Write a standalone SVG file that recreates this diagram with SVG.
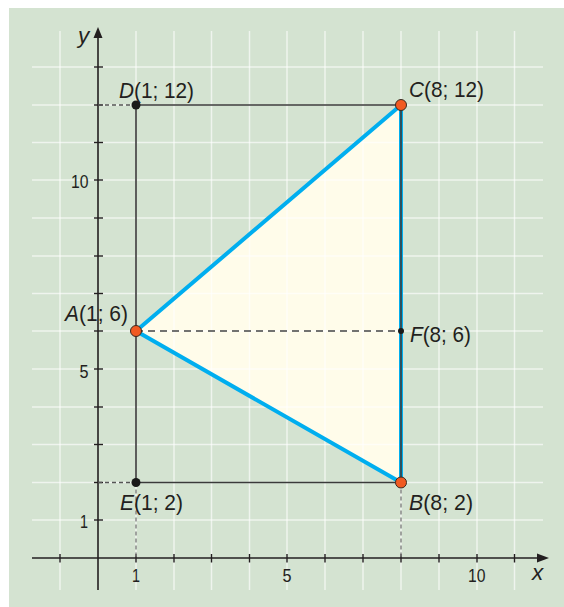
<svg xmlns="http://www.w3.org/2000/svg" width="564" height="607" viewBox="0 0 564 607">
<defs>
<style>
.grid line{stroke:#ffffff;stroke-opacity:0.62;stroke-width:1.5}
.axis{stroke:#231f20;stroke-width:1.6;fill:none}
.tick line{stroke:#231f20;stroke-width:1.4}
.rect{stroke:#3a3a3a;stroke-width:1.6;fill:none}
.blue{stroke:#00aeef;stroke-width:4;fill:none;stroke-linecap:round}
.dash{stroke:#444;stroke-width:1.6;stroke-dasharray:7 5;fill:none}
.dashs{stroke:#555;stroke-width:1.3;stroke-dasharray:4 3;fill:none}
.dashl{stroke:#777;stroke-width:1.3;stroke-dasharray:4 3;fill:none}
.lbl{font-family:"Liberation Sans",Arial,sans-serif;font-size:22.5px;fill:#231f20}
.num{font-family:"Liberation Sans",Arial,sans-serif;font-size:18px;fill:#231f20}
.it{font-style:italic}
.pt{fill:#f15a22;stroke:#3a2a20;stroke-width:1}
.bk{fill:#1a1a1a}
</style>
</defs>
<rect x="9" y="8" width="555" height="599" fill="#d4e3d1"/>
<polygon id="triangle-fill" points="136,331 401,105 401,482.5" fill="#fffcea"/>
<g class="grid">
<line x1="60" y1="31" x2="60" y2="590"/>
<line x1="136" y1="31" x2="136" y2="590"/>
<line x1="174" y1="31" x2="174" y2="590"/>
<line x1="211.5" y1="31" x2="211.5" y2="590"/>
<line x1="249.5" y1="31" x2="249.5" y2="590"/>
<line x1="287" y1="31" x2="287" y2="590"/>
<line x1="325" y1="31" x2="325" y2="590"/>
<line x1="363" y1="31" x2="363" y2="590"/>
<line x1="401" y1="31" x2="401" y2="590"/>
<line x1="439" y1="31" x2="439" y2="590"/>
<line x1="477" y1="31" x2="477" y2="590"/>
<line x1="514.5" y1="31" x2="514.5" y2="590"/>
<line x1="32" y1="67" x2="543" y2="67"/>
<line x1="32" y1="105" x2="543" y2="105"/>
<line x1="32" y1="142.5" x2="543" y2="142.5"/>
<line x1="32" y1="180" x2="543" y2="180"/>
<line x1="32" y1="218" x2="543" y2="218"/>
<line x1="32" y1="256" x2="543" y2="256"/>
<line x1="32" y1="293.5" x2="543" y2="293.5"/>
<line x1="32" y1="331" x2="543" y2="331"/>
<line x1="32" y1="369" x2="543" y2="369"/>
<line x1="32" y1="407" x2="543" y2="407"/>
<line x1="32" y1="444.5" x2="543" y2="444.5"/>
<line x1="32" y1="482.5" x2="543" y2="482.5"/>
<line x1="32" y1="520" x2="543" y2="520"/>
</g>
<g id="axes">
<line class="axis" x1="98" y1="590" x2="98" y2="36"/>
<polygon points="98,27 93.5,38 102.5,38" fill="#231f20"/>
<line class="axis" x1="32" y1="558" x2="538" y2="558"/>
<polygon points="549,558 537,553.5 537,562.5" fill="#231f20"/>
<g class="tick">
<line x1="94" y1="67" x2="103" y2="67"/>
<line x1="94" y1="105" x2="103" y2="105"/>
<line x1="94" y1="142.5" x2="103" y2="142.5"/>
<line x1="94" y1="180" x2="103" y2="180"/>
<line x1="94" y1="218" x2="103" y2="218"/>
<line x1="94" y1="256" x2="103" y2="256"/>
<line x1="94" y1="293.5" x2="103" y2="293.5"/>
<line x1="94" y1="331" x2="103" y2="331"/>
<line x1="94" y1="369" x2="103" y2="369"/>
<line x1="94" y1="407" x2="103" y2="407"/>
<line x1="94" y1="444.5" x2="103" y2="444.5"/>
<line x1="94" y1="482.5" x2="103" y2="482.5"/>
<line x1="94" y1="520" x2="103" y2="520"/>
<line x1="60" y1="554" x2="60" y2="562.5"/>
<line x1="136" y1="554" x2="136" y2="562.5"/>
<line x1="174" y1="554" x2="174" y2="562.5"/>
<line x1="211.5" y1="554" x2="211.5" y2="562.5"/>
<line x1="249.5" y1="554" x2="249.5" y2="562.5"/>
<line x1="287" y1="554" x2="287" y2="562.5"/>
<line x1="325" y1="554" x2="325" y2="562.5"/>
<line x1="363" y1="554" x2="363" y2="562.5"/>
<line x1="401" y1="554" x2="401" y2="562.5"/>
<line x1="439" y1="554" x2="439" y2="562.5"/>
<line x1="477" y1="554" x2="477" y2="562.5"/>
<line x1="514.5" y1="554" x2="514.5" y2="562.5"/>
</g>
<text class="lbl it" x="78" y="43" font-size="21">y</text>
<text class="lbl it" x="532" y="580" font-size="21">x</text>
<text class="num" x="71" y="187.5" textLength="17.5" lengthAdjust="spacingAndGlyphs">10</text>
<text class="num" x="79.5" y="377.5" textLength="9" lengthAdjust="spacingAndGlyphs">5</text>
<text class="num" x="80" y="527.5" textLength="8" lengthAdjust="spacingAndGlyphs">1</text>
<text class="num" x="132" y="582" textLength="8" lengthAdjust="spacingAndGlyphs">1</text>
<text class="num" x="282.5" y="582" textLength="9" lengthAdjust="spacingAndGlyphs">5</text>
<text class="num" x="468" y="582" textLength="17.5" lengthAdjust="spacingAndGlyphs">10</text>
</g>
<g id="connectors">
<line class="dashs" x1="98" y1="105" x2="136" y2="105"/>
<line class="dashs" x1="98" y1="482.5" x2="136" y2="482.5"/>
<line class="dashl" x1="136" y1="482.5" x2="136" y2="558"/>
<line class="dashl" x1="401" y1="482.5" x2="401" y2="558"/>
<line class="dash" x1="136" y1="331" x2="401" y2="331"/>
<line class="blue" x1="136" y1="331" x2="401" y2="105"/>
<line class="blue" x1="136" y1="331" x2="401" y2="482.5"/>
<line class="blue" x1="401" y1="105" x2="401" y2="482.5"/>
<polyline class="rect" points="136,105 401,105 401,482.5 136,482.5 136,105"/>
</g>
<g id="D">
<circle class="bk" cx="136" cy="105" r="4.5"/>
<text class="lbl" x="119" y="98" textLength="75" lengthAdjust="spacingAndGlyphs"><tspan class="it">D</tspan>(1; 12)</text>
</g>
<g id="C">
<circle class="pt" cx="401" cy="105" r="5.5"/>
<text class="lbl" x="409" y="97" textLength="75" lengthAdjust="spacingAndGlyphs"><tspan class="it">C</tspan>(8; 12)</text>
</g>
<g id="A">
<circle class="pt" cx="136" cy="331" r="5.5"/>
<text class="lbl" x="65" y="321" textLength="63" lengthAdjust="spacingAndGlyphs"><tspan class="it">A</tspan>(1; 6)</text>
</g>
<g id="F">
<circle class="bk" cx="401" cy="331" r="3"/>
<text class="lbl" x="410" y="342" textLength="61" lengthAdjust="spacingAndGlyphs"><tspan class="it">F</tspan>(8; 6)</text>
</g>
<g id="E">
<circle class="bk" cx="136" cy="482.5" r="4.5"/>
<text class="lbl" x="120" y="510" textLength="63" lengthAdjust="spacingAndGlyphs"><tspan class="it">E</tspan>(1; 2)</text>
</g>
<g id="B">
<circle class="pt" cx="401" cy="482.5" r="5.5"/>
<text class="lbl" x="409" y="510" textLength="64" lengthAdjust="spacingAndGlyphs"><tspan class="it">B</tspan>(8; 2)</text>
</g>
</svg>
